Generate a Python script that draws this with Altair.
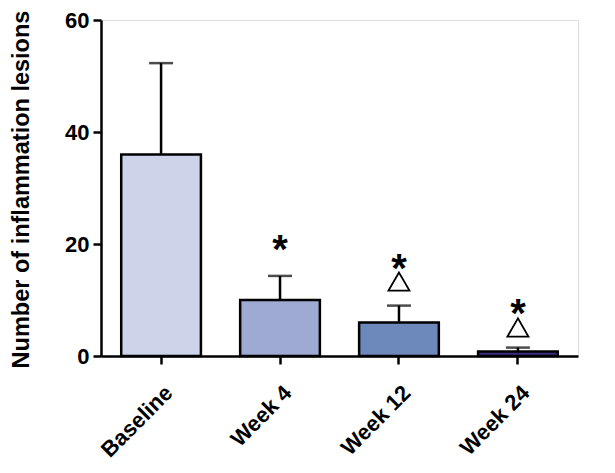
import altair as alt
import pandas as pd

categories = ["Baseline", "Week 4", "Week 12", "Week 24"]
means = [36.0, 10.0, 6.0, 0.8]
upper = [52.3, 14.3, 9.0, 1.5]
colors = ["#CDD3E8", "#9EAAD1", "#6D88BB", "#3B2C80"]

star_cats = ["Week 4", "Week 12", "Week 24"]
star_y = [20.2, 16.7, 8.7]
tri_cats = ["Week 12", "Week 24"]
tri_y = [13.3, 5.1]

y_ticks = [0, 20, 40, 60]

bars_df = pd.DataFrame({"cat": categories, "mean": means, "upper": upper})
star_df = pd.DataFrame({"cat": star_cats, "y": star_y, "label": ["*"] * len(star_cats)})
tri_df = pd.DataFrame({"cat": tri_cats, "y": tri_y})

FONT = "Liberation Sans"

x_enc = alt.X(
    "cat:N",
    sort=categories,
    scale=alt.Scale(paddingInner=0.33, paddingOuter=0.17),
    axis=alt.Axis(
        title=None,
        labelAngle=-45,
        labelAlign="right",
        labelBaseline="middle",
        labelPadding=25,
        labelOffset=8,
        labelFont=FONT,
        labelFontSize=22,
        labelFontWeight="bold",
        labelColor="black",
        tickSize=8,
        tickWidth=2.5,
        tickColor="black",
        domainColor="black",
        domainWidth=2.5,
    ),
)

y_scale = alt.Scale(domain=[0, 60], nice=False)

bars = alt.Chart(bars_df).mark_bar(stroke="black", strokeWidth=2.5).encode(
    x=x_enc,
    y=alt.Y(
        "mean:Q",
        scale=y_scale,
        axis=alt.Axis(
            title="Number of inflammation lesions",
            values=y_ticks,
            grid=False,
            labelFont=FONT,
            labelFontSize=22,
            labelFontWeight="bold",
            labelColor="black",
            labelPadding=4,
            tickSize=8,
            tickWidth=2.5,
            tickColor="black",
            domainColor="black",
            domainWidth=2.5,
            titleFont=FONT,
            titleFontSize=23.5,
            titleFontWeight="bold",
            titleColor="black",
            titleAngle=270,
            titleAlign="center",
            titleBaseline="middle",
            titleX=-80,
            titleY=169,
        ),
    ),
    color=alt.Color("cat:N", scale=alt.Scale(domain=categories, range=colors), legend=None),
)

err = alt.Chart(bars_df).mark_rule(color="black", strokeWidth=2.5).encode(
    x=alt.X("cat:N", sort=categories),
    y=alt.Y("mean:Q", scale=y_scale),
    y2="upper:Q",
)

caps = alt.Chart(bars_df).mark_tick(color="black", thickness=2.5, size=24, orient="horizontal").encode(
    x=alt.X("cat:N", sort=categories),
    y=alt.Y("upper:Q", scale=y_scale),
)

stars = alt.Chart(star_df).mark_text(
    font=FONT, fontSize=40, fontWeight="bold", color="black", baseline="alphabetic", dy=20
).encode(
    x=alt.X("cat:N", sort=categories),
    y=alt.Y("y:Q", scale=y_scale),
    text="label:N",
)

tris = alt.Chart(tri_df).mark_point(
    shape="triangle-up", filled=False, size=441, stroke="black", strokeWidth=1.8, opacity=1
).encode(
    x=alt.X("cat:N", sort=categories),
    y=alt.Y("y:Q", scale=y_scale),
)

chart = alt.layer(err, bars, caps, stars, tris).properties(
    width=477,
    height=336,
    autosize=alt.AutoSizeParams(type="none"),
    padding={"left": 93, "top": 12, "right": 29, "bottom": 109},
).configure_view(stroke=None).configure(background="white")

chart.save("out.html", embed_options={"renderer": "svg", "actions": False})
